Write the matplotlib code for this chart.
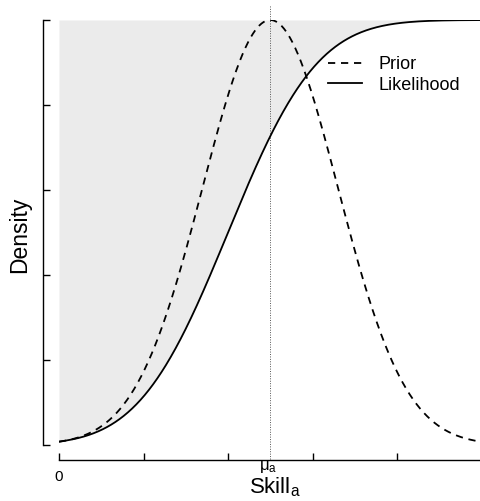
import numpy as np
import matplotlib
matplotlib.use("Agg")
import matplotlib.pyplot as plt
from math import erf

plt.rcParams['font.family'] = ['Liberation Sans', 'DejaVu Sans']
plt.rcParams['mathtext.fontset'] = 'custom'
plt.rcParams['mathtext.rm'] = 'Liberation Sans'
plt.rcParams['mathtext.it'] = 'Liberation Sans'
plt.rcParams['mathtext.bf'] = 'Liberation Sans:bold'

# Parameters
prior_mean = 2.5          # mu_a
prior_sd = 0.8
lik_center = 2.0
lik_sd = 0.83
x_ticks = [0, 1, 2, 3, 4, 5]
y_ticks = [0, 0.2, 0.4, 0.6, 0.8, 1.0]
legend_labels = ["Prior", "Likelihood"]

W, H = 480, 501
fig = plt.figure(figsize=(W / 100, H / 100), dpi=100)
x0, x1 = 59, 480
y0, y1 = 445, 20
ax = fig.add_axes([x0 / W, (H - y0) / H, (x1 - x0) / W, (y0 - y1) / H])
xmax = (x1 - x0) / 84.5
ax.set_xlim(0, xmax)
ax.set_ylim(0, 1)

x = np.linspace(0, xmax, 600)
prior = np.exp(-0.5 * ((x - prior_mean) / prior_sd) ** 2)
lik = np.array([0.5 * (1 + erf((v - lik_center) / (lik_sd * np.sqrt(2)))) for v in x])

ax.fill_between(x, lik, 1.0, color='#ebebeb', lw=0, zorder=1)
ax.plot(x, prior, color='black', lw=1.3, ls=(0, (4, 3.2)), label=legend_labels[0], zorder=3)
ax.plot(x, lik, color='black', lw=1.3, label=legend_labels[1], zorder=3)
ax.plot([prior_mean, prior_mean], [-0.033, 1.035], color='#555555', lw=0.7,
        ls=(0, (1, 1.5)), clip_on=False, zorder=2)

for s in ['top', 'right']:
    ax.spines[s].set_visible(False)
ax.spines['left'].set_position(('outward', 16 * 0.72))
ax.spines['bottom'].set_position(('outward', 14.5 * 0.72))
ax.spines['left'].set_bounds(0, 1)
ax.spines['bottom'].set_bounds(0, xmax)
for s in ['left', 'bottom']:
    ax.spines[s].set_linewidth(1.0)

ax.set_xticks([t for t in x_ticks if t <= xmax])
ax.set_xticklabels([])
ax.set_yticks(y_ticks)
ax.set_yticklabels([])
ax.tick_params(axis='both', direction='in', length=5, width=1.0)

def fy(py):
    return 1 - py / H

def fx(px):
    return px / W

fig.text(fx(59), fy(477), "0", ha='center', va='center', fontsize=11)
fig.text(fx(268), fy(467), r'$\mu_{a}$', ha='center', va='center', fontsize=12)
fig.text(fx(275), fy(487), r'$\mathrm{Skill}_{a}$', ha='center', va='center', fontsize=16)
fig.text(fx(19.5), fy(235), "Density", rotation=90, ha='center', va='center', fontsize=16.5)

leg = ax.legend(loc='upper left', bbox_to_anchor=((328 - x0) / (x1 - x0), 1 - (56 - y1) / (y0 - y1)),
                frameon=False, fontsize=13, handlelength=1.9, handletextpad=0.9,
                labelspacing=0.2, borderaxespad=0, borderpad=0)

fig.savefig("out.png", dpi=100)
